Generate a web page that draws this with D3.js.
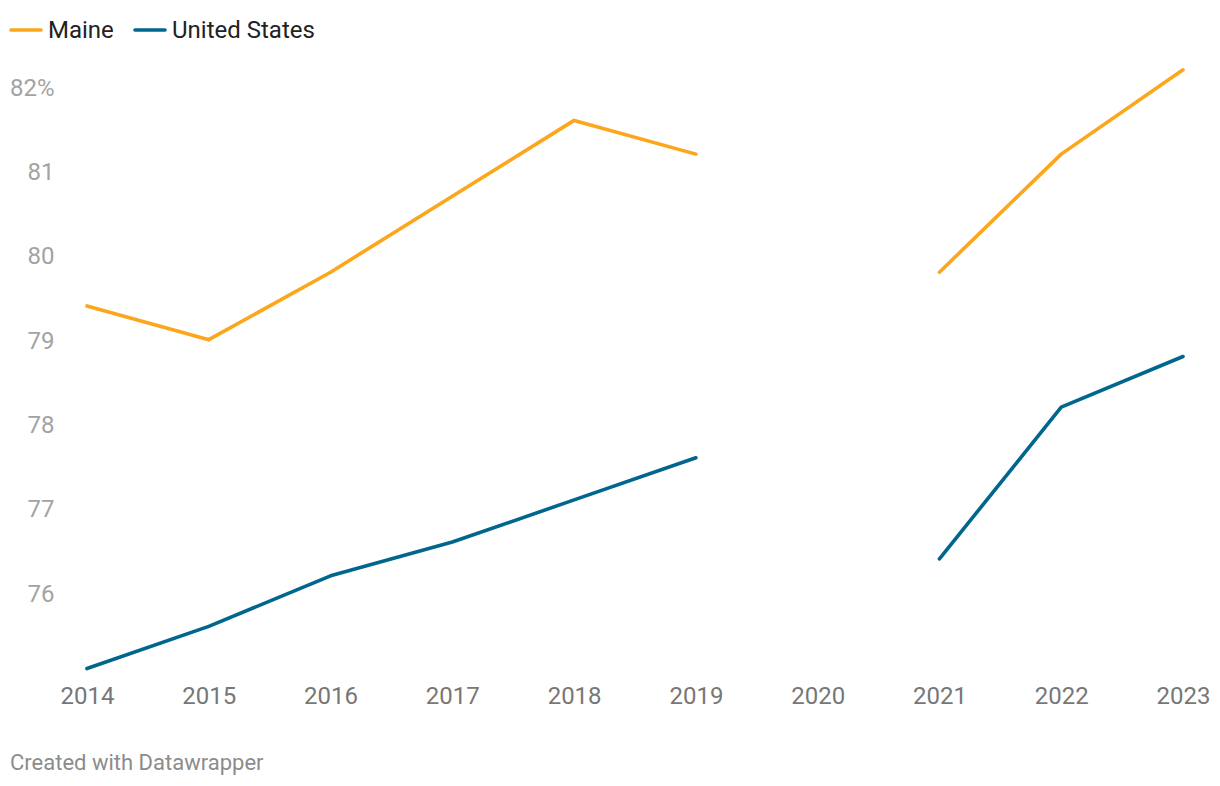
<!DOCTYPE html>
<html>
<head>
<meta charset="utf-8">
<script src="https://cdn.jsdelivr.net/npm/d3@7"></script>
<style>
  html, body { margin: 0; padding: 0; background: #fff; }
  svg { display: block; font-family: Roboto, "Noto Sans", sans-serif; }
</style>
</head>
<body>
<svg id="chart" width="1220" height="786"></svg>
<script>
const years = [2014, 2015, 2016, 2017, 2018, 2019, 2020, 2021, 2022, 2023];
const maine = [79.4, 79.0, 79.8, 80.7, 81.6, 81.2, null, 79.8, 81.2, 82.2];
const unitedStates = [75.1, 75.6, 76.2, 76.6, 77.1, 77.6, null, 76.4, 78.2, 78.8];
const yTicks = [76, 77, 78, 79, 80, 81, 82];
const seriesNames = ["Maine", "United States"];
const seriesColors = ["#fca61c", "#00668e"];
const footerText = "Created with Datawrapper";

const svg = d3.select("#chart");
const x = d3.scaleLinear().domain([2014, 2023]).range([87, 1183]);
const y = d3.scaleLinear().domain([75, 82.2]).range([677, 69.8]);

// Y axis labels
const yAxis = d3.axisLeft(y).tickValues(yTicks).tickSize(0).tickPadding(0)
  .tickFormat(d => d === 82 ? d + "%" : d);
const gy = svg.append("g").attr("transform", "translate(54.5,0)").call(yAxis);
gy.select(".domain").remove();
gy.selectAll("text").attr("fill", "#a3a3a3").attr("font-size", 24)
  .attr("font-family", "Roboto").attr("dy", "0.35em");

// X axis labels
const xAxis = d3.axisBottom(x).tickValues(years).tickSize(0).tickPadding(0)
  .tickFormat(d3.format("d"));
const gx = svg.append("g").attr("transform", "translate(0,695.5)").call(xAxis);
gx.select(".domain").remove();
gx.selectAll("text").attr("fill", "#777").attr("font-size", 24)
  .attr("font-family", "Roboto").attr("dy", "0.35em");

// Lines
const data = [maine, unitedStates];
const line = d3.line()
  .defined(d => d.v !== null)
  .x(d => x(d.year))
  .y(d => y(d.v));
data.forEach((vals, i) => {
  const pts = years.map((yr, j) => ({ year: yr, v: vals[j] }));
  svg.append("path").datum(pts)
    .attr("d", line)
    .attr("fill", "none")
    .attr("stroke", seriesColors[i])
    .attr("stroke-width", 3.6)
    .attr("stroke-linecap", "round")
    .attr("stroke-linejoin", "round");
});

// Legend
const legendX = [10, 134];
seriesNames.forEach((name, i) => {
  const g = svg.append("g").attr("transform", `translate(${legendX[i]},30)`);
  g.append("line").attr("x1", 1).attr("x2", 31).attr("y1", 0).attr("y2", 0)
    .attr("stroke", seriesColors[i]).attr("stroke-width", 3.6).attr("stroke-linecap", "round");
  g.append("text").attr("x", 38).attr("y", 0).attr("dy", "0.35em")
    .attr("font-size", 24).attr("fill", "#222").text(name);
});

// Footer
svg.append("text").attr("x", 10).attr("y", 762).attr("dy", "0.35em")
  .attr("font-size", 22).attr("fill", "#8c8c8c").text(footerText);
</script>
</body>
</html>
